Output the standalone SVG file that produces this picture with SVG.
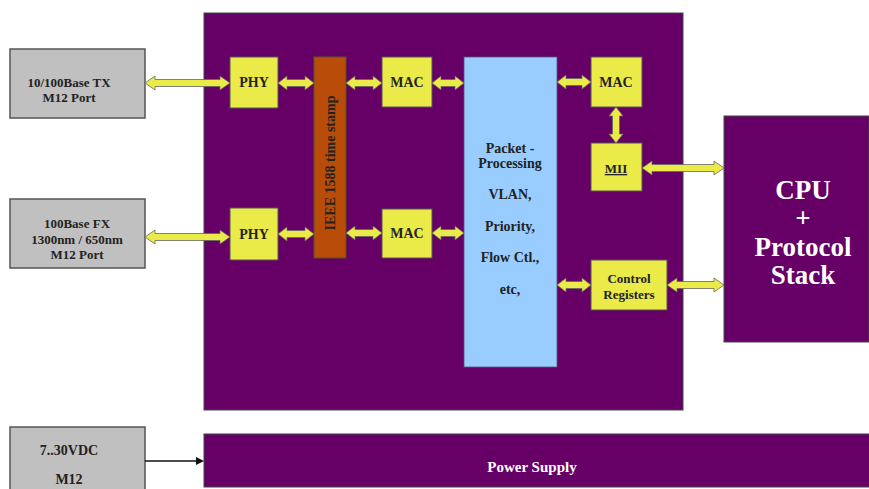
<svg xmlns="http://www.w3.org/2000/svg" width="869" height="489" viewBox="0 0 869 489">
<style>
.purple{fill:#660066;stroke:#444;stroke-width:1}
.gray{fill:#c0c0c0;stroke:#555;stroke-width:1.5}
.yel{fill:#eaea48;stroke:#555;stroke-width:1}
.arr{fill:#eaea48;stroke:#666;stroke-width:0.8}
.t{font-family:"Liberation Serif","Times New Roman",serif;font-weight:bold;fill:#222;text-anchor:middle}
.s13{font-size:13px}
.s14{font-size:14px}
.w{fill:#fff}
</style>
<rect width="869" height="489" fill="#fff"/>
<g id="main"><rect class="purple" x="204" y="13" width="479" height="397"/></g>
<g id="port1"><rect class="gray" x="10" y="49" width="135" height="69"/>
<text class="t s13" x="69" y="87">10/100Base TX</text><text class="t s13" x="69" y="102">M12 Port</text></g>
<g id="port2"><rect class="gray" x="10" y="199" width="135" height="69"/>
<text class="t s13" x="77" y="228">100Base FX</text><text class="t s13" x="77" y="244">1300nm / 650nm</text><text class="t s13" x="77" y="259">M12 Port</text></g>
<g id="port3"><rect class="gray" x="10" y="427" width="135" height="66"/>
<text class="t s14" x="69" y="455">7..30VDC</text><text class="t s14" x="69" y="484">M12</text></g>
<g id="phy1"><rect class="yel" x="230" y="57" width="48" height="51"/><text class="t s14" x="254" y="87">PHY</text></g>
<g id="phy2"><rect class="yel" x="230" y="208" width="48" height="52"/><text class="t s14" x="254" y="239">PHY</text></g>
<g id="ieee"><rect x="314" y="57" width="32" height="201" fill="#b84c08" stroke="#552" stroke-width="1"/>
<text class="t s14" transform="translate(335,163) rotate(-90)" x="0" y="0">IEEE 1588 time stamp</text></g>
<g id="mac1"><rect class="yel" x="382" y="57" width="50" height="50"/><text class="t s14" x="407" y="87">MAC</text></g>
<g id="mac2"><rect class="yel" x="382" y="209" width="50" height="49"/><text class="t s14" x="407" y="238">MAC</text></g>
<g id="pp"><rect x="464" y="57" width="93" height="310" fill="#99ccff" stroke="#557" stroke-width="0.8"/>
<text class="t s14" x="510" y="153">Packet -</text><text class="t s14" x="510" y="168">Processing</text>
<text class="t s14" x="510" y="199">VLAN,</text><text class="t s14" x="510" y="231">Priority,</text>
<text class="t s14" x="510" y="262">Flow Ctl.,</text><text class="t s14" x="510" y="294">etc,</text></g>
<g id="mac3"><rect class="yel" x="591" y="57" width="51" height="50"/><text class="t s14" x="616" y="87">MAC</text></g>
<g id="mii"><rect class="yel" x="591" y="143" width="51" height="48"/><text class="t s13" x="616" y="173" text-decoration="underline">MII</text></g>
<g id="ctrl"><rect class="yel" x="591" y="260" width="76" height="50"/><text class="t s13" x="629" y="283">Control</text><text class="t s13" x="629" y="299">Registers</text></g>
<g id="cpu"><rect class="purple" x="724" y="116" width="145" height="226"/>
<text class="t w" font-size="27" x="803" y="199">CPU</text><text class="t w" font-size="27" x="803" y="227">+</text>
<text class="t w" font-size="27" x="803" y="256">Protocol</text><text class="t w" font-size="27" x="803" y="284">Stack</text></g>
<g id="power"><rect class="purple" x="204" y="434" width="670" height="53"/><text class="t w" font-size="15" x="532" y="472">Power Supply</text></g>
<g id="connectors">
<polygon class="arr" points="145,83 155,76 155,79.5 220,79.5 220,76 230,83 220,90 220,86.5 155,86.5 155,90"/>
<polygon class="arr" points="278,83 287,76 287,79.5 305,79.5 305,76 314,83 305,90 305,86.5 287,86.5 287,90"/>
<polygon class="arr" points="346,83 355,76 355,79.5 373,79.5 373,76 382,83 373,90 373,86.5 355,86.5 355,90"/>
<polygon class="arr" points="432,83 441,76 441,79.5 455,79.5 455,76 464,83 455,90 455,86.5 441,86.5 441,90"/>
<polygon class="arr" points="145,237 155,230 155,233.5 220,233.5 220,230 230,237 220,244 220,240.5 155,240.5 155,244"/>
<polygon class="arr" points="278,234 287,227 287,230.5 305,230.5 305,227 314,234 305,241 305,237.5 287,237.5 287,241"/>
<polygon class="arr" points="346,233 355,226 355,229.5 373,229.5 373,226 382,233 373,240 373,236.5 355,236.5 355,240"/>
<polygon class="arr" points="432,233 441,226 441,229.5 455,229.5 455,226 464,233 455,240 455,236.5 441,236.5 441,240"/>
<polygon class="arr" points="557,82 566,75 566,78.5 582,78.5 582,75 591,82 582,89 582,85.5 566,85.5 566,89"/>
<polygon class="arr" points="616,107 623,116 619.5,116 619.5,134 623,134 616,143 609,134 612.5,134 612.5,116 609,116"/>
<polygon class="arr" points="642,168 652,161 652,164.5 714,164.5 714,161 724,168 714,175 714,171.5 652,171.5 652,175"/>
<polygon class="arr" points="557,285 566,278 566,281.5 582,281.5 582,278 591,285 582,292 582,288.5 566,288.5 566,292"/>
<polygon class="arr" points="667,285 677,278 677,281.5 714,281.5 714,278 724,285 714,292 714,288.5 677,288.5 677,292"/>
<line x1="145" y1="461" x2="197" y2="461" stroke="#111" stroke-width="1.5"/>
<polygon points="204,461 196,457 196,465" fill="#111"/>
</g>
</svg>
